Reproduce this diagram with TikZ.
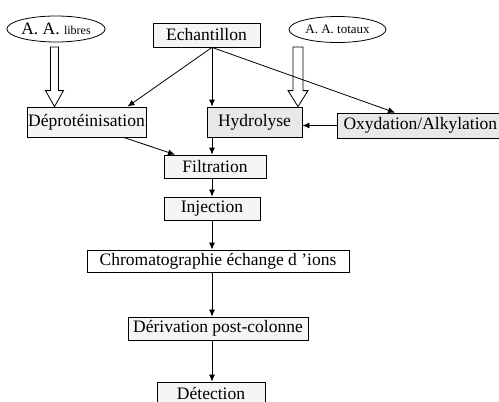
\documentclass[tikz,border=0pt]{standalone}
\usepackage{fontspec}
\setmainfont{Liberation Serif}
\usetikzlibrary{arrows.meta, positioning, calc, shapes.geometric}
\tikzset{
  >={Latex[length=7pt,width=6pt]}, % small filled heads
  box/.style={draw, line width=0.8pt, inner sep=0pt,
    font=\fontsize{17.5}{19}\selectfont}, % every step of the protocol
  light/.style={box, fill=gray!8},
  dark/.style={box, fill=gray!18},
  plain/.style={box, fill=white},
  source/.style={draw, ellipse, line width=0.8pt, inner sep=0pt,
    minimum width=97pt, minimum height=26pt},
  flow/.style={->, line width=0.8pt},
  hollow/.style={draw, fill=white, line width=0.8pt, line join=miter},
}

\begin{document}
\begin{tikzpicture}[x=1pt, y=-1pt]
  \useasboundingbox (0,0) rectangle (499,402);
  \coordinate (axis) at (212,0);

  % sources
  \node[source, font=\fontsize{17.5}{19}\selectfont] (libres) at (56,29)
    {A. A. {\fontsize{12}{14}\selectfont libres}};
  \node[source, font=\fontsize{13}{15}\selectfont] (totaux) at (337.5,29.5)
    {A. A. totaux};

  % steps
  \node[light, minimum width=107pt, minimum height=24pt] (ech) at (206.5,35) {Echantillon};
  \node[light, minimum width=119pt, minimum height=30pt] (dep) at (86.5,122) {Déprotéinisation};
  \node[dark, minimum width=95pt, minimum height=30pt] (hyd) at (254.5,122) {Hydrolyse};
  \node[dark, minimum width=168pt, minimum height=25pt, anchor=west] (oxy) at (337,125.5)
    {\hspace*{-2pt}Oxydation/Alkylation};
  \node[light, minimum width=102pt, minimum height=23pt] (fil) at (215,166.5) {Filtration};
  \node[light, minimum width=96pt, minimum height=23pt] (inj) at (212,208.5) {Injection};
  \node[plain, minimum width=262pt, minimum height=22pt] (chrom) at (218,261)
    {Chromatographie échange d 'ions};
  \node[light, minimum width=180pt, minimum height=23pt] (der) at (218,328.5)
    {Dérivation post-colonne};
  \node[light, minimum width=108pt, minimum height=23pt] (det) at (211,393.5) {Détection};

  % hollow arrows
  \coordinate (ltip) at ([xshift=-32pt]dep.north);
  \coordinate (ltop) at (ltip |- 0,47);
  \draw[hollow] ([xshift=-4pt]ltop) -- ([shift={(-4,-16)}]ltip) -- ++(-5,0)
    -- (ltip) -- ++(9,-16) -- ++(-5,0) -- ([xshift=4pt]ltop) -- cycle;
  \coordinate (ttip) at ([xshift=43.5pt]hyd.north);
  \coordinate (ttop) at (ttip |- 0,47);
  \draw[hollow] ([xshift=-5pt]ttop) -- ([shift={(-5,-16)}]ttip) -- ++(-5,0)
    -- (ttip) -- ++(10,-16) -- ++(-5,0) -- ([xshift=5pt]ttop) -- cycle;

  % connectors
  \draw[flow] (ech.south -| axis) -- ([xshift=41pt]dep.north);
  \draw[flow] (ech.south -| axis) -- (hyd.north -| axis);
  \draw[flow] (ech.south -| axis) -- ([xshift=58pt]oxy.north west);
  \draw[flow] (oxy.west) -- (oxy.west -| hyd.east);
  \draw[flow] ([xshift=37pt]dep.south) -- ([xshift=-40pt]fil.north);
  \draw[flow] (hyd.south -| axis) -- (fil.north -| axis);
  \draw[flow] (fil.south -| axis) -- (inj.north -| axis);
  \draw[flow] (inj.south -| axis) -- (chrom.north -| axis);
  \draw[flow] (chrom.south -| axis) -- (der.north -| axis);
  \draw[flow] (der.south -| axis) -- (det.north -| axis);
\end{tikzpicture}
\end{document}
